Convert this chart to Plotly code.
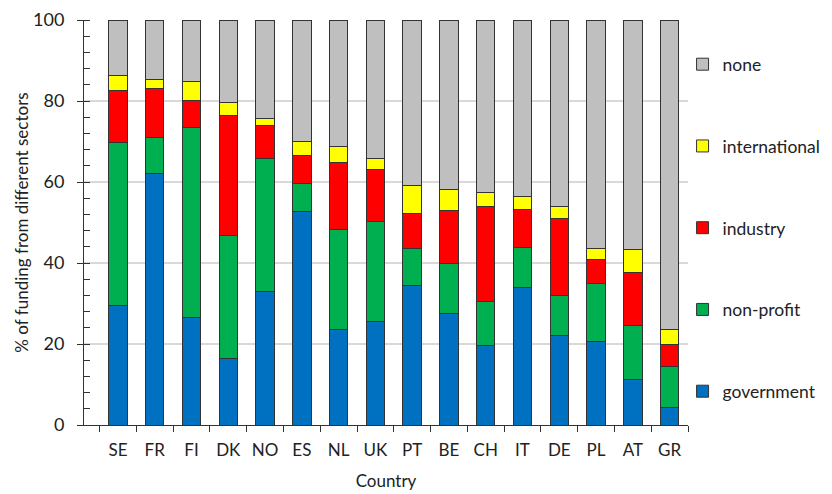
import plotly.graph_objects as go

countries = ["SE", "FR", "FI", "DK", "NO", "ES", "NL", "UK", "PT", "BE", "CH", "IT", "DE", "PL", "AT", "GR"]
government = [29.4, 62.1, 26.5, 16.4, 33.0, 52.7, 23.5, 25.5, 34.5, 27.5, 19.7, 33.9, 22.1, 20.7, 11.3, 4.4]
non_profit = [40.3, 8.8, 47.0, 30.4, 32.7, 6.9, 24.7, 24.8, 9.0, 12.4, 10.9, 10.0, 9.9, 14.3, 13.2, 10.1]
industry = [12.8, 12.1, 6.7, 29.5, 8.2, 6.9, 16.6, 12.9, 8.8, 13.0, 23.4, 9.3, 18.9, 5.8, 13.1, 5.5]
international = [3.8, 2.3, 4.7, 3.4, 1.8, 3.5, 3.9, 2.5, 6.8, 5.2, 3.5, 3.3, 3.0, 2.8, 5.8, 3.7]
none = [13.7, 14.7, 15.1, 20.3, 24.3, 30.0, 31.3, 34.3, 40.9, 41.9, 42.5, 43.5, 46.1, 56.4, 56.6, 76.3]

series = [
    ("government", government, "#0070C0", 5),
    ("non-profit", non_profit, "#00B050", 4),
    ("industry", industry, "#FF0000", 3),
    ("international", international, "#FFFF00", 2),
    ("none", none, "#BFBFBF", 1),
]

FONT = "Lato"
fig = go.Figure()
for name, vals, col, rank in series:
    fig.add_trace(go.Bar(
        x=countries, y=vals, name=name, legendgroup=name, legendrank=rank,
        marker=dict(color=col, line=dict(color="#333333", width=1)),
    ))

fig.update_layout(
    barmode="stack",
    bargap=0.5,
    width=824, height=486,
    margin=dict(l=76, r=144, t=12, b=69, autoexpand=False),
    plot_bgcolor="white", paper_bgcolor="white",
    font=dict(family=FONT, size=17, color="#222222"),
    showlegend=True,
    legend=dict(
        traceorder="grouped", tracegroupgap=56,
        x=0.991, xanchor="left", y=0.935, yanchor="top",
        font=dict(family=FONT, size=17.5, color="#222222"),
        bgcolor="rgba(0,0,0,0)",
    ),
    xaxis=dict(
        type="category", tickson="boundaries", ticks="outside", ticklen=6,
        tickcolor="#333333", showline=True, linecolor="#333333", linewidth=1,
        showgrid=False, automargin=False, ticklabelstandoff=10,
        title=dict(text="Country", font=dict(family=FONT, size=17)),
        tickfont=dict(family=FONT, size=17),
    ),
    yaxis=dict(
        range=[0, 100], dtick=20, ticks="outside", ticklen=6, tickcolor="#333333",
        showline=True, linecolor="#333333", linewidth=1,
        showgrid=True, gridcolor="#d9d9d9", gridwidth=1.5,
        zeroline=False, automargin=False, ticklabelstandoff=9,
        minor=dict(dtick=4, ticks="inside", ticklen=6, tickcolor="#333333", showgrid=False),
        title=dict(text="% of funding from different sectors", font=dict(family=FONT, size=17), standoff=0),
        tickfont=dict(family=FONT, size=18),
    ),
    yaxis2=dict(
        overlaying="y", anchor="x", side="left", range=[0, 100],
        tickvals=[0, 20, 40, 60, 80, 100], ticks="inside", ticklen=6, tickcolor="#333333",
        showticklabels=False, showgrid=False, showline=False, zeroline=False,
        automargin=False,
    ),
)
fig.add_trace(go.Scatter(x=[countries[0]], y=[0], yaxis="y2", mode="markers",
                         marker=dict(opacity=0), showlegend=False, hoverinfo="skip"))

fig.write_html("out.html")
